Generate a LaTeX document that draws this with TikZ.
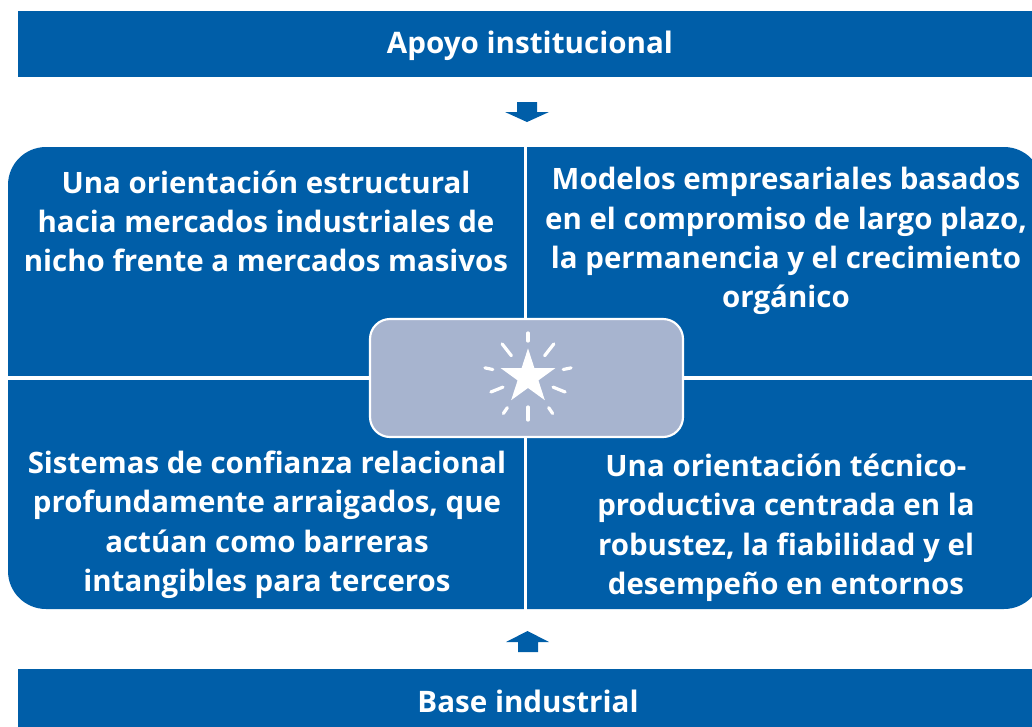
\documentclass[tikz,border=0pt]{standalone}
\usepackage{fontspec}
\setmainfont{Open Sans}
\usetikzlibrary{shapes.geometric,calc}

\definecolor{bandblue}{RGB}{0,94,168}
\definecolor{hubgrey}{RGB}{167,180,207}

\tikzset{every picture/.style={line width=0.75pt}}
\tikzset{
  bandtext/.style={inner sep=0.75pt, text=white, font=\bfseries\fontsize{22.2}{29}\selectfont},
  quadtext/.style={inner sep=0.75pt, text=white, align=center, font=\bfseries\fontsize{22.1}{29.5}\selectfont},
  sparkray/.style={white, line width=2.4pt, line cap=round},
}

\begin{document}
\begin{tikzpicture}[x=0.75pt,y=0.75pt,yscale=-1,xscale=1]
\useasboundingbox (0,0) rectangle (1032,726);
\clip (0,0) rectangle (1032,726);

%Shape: Rectangle [top band]
\fill [bandblue] (18,11) rectangle (1042,77);
%Shape: Rectangle [bottom band]
\fill [bandblue] (18,669) rectangle (1042,740);

%Shape: Block arrow down
\fill [bandblue] (517,102) -- (537,102) -- (537,112) -- (549,112) -- (527,122) -- (505,112) -- (517,112) -- cycle;
%Shape: Block arrow up
\fill [bandblue] (518,652) -- (538,652) -- (538,642) -- (549,642) -- (527.5,631) -- (506,642) -- (518,642) -- cycle;

%Shape: Quadrants
\fill [bandblue] (8,378) [rounded corners=28.5pt] -- (8,147) -- (1042,147) -- (1042,609) -- (8,609) [sharp corners] -- cycle;
%Straight Lines [dividers]
\draw [white, line width=2.4pt] (525.3,140) -- (525.3,615);
\draw [white, line width=2.4pt] (0,378) -- (1040,378);

%Shape: Rounded Rect [hub]
\node (hub) at (526.5,378) [draw=white, line width=1.6pt, fill=hubgrey, rounded corners=15pt, minimum width=234.75pt, minimum height=88.5pt] {};
%Shape: Star
\node (star) at (528,377) [star, star points=5, star point ratio=2.618, fill=white, inner sep=0pt, minimum size=43pt] {};
\foreach \ang/\rin/\rout in {90/36/44, 128/27/42, 52/27/42, 168/36/44, 12/36/44, 202/27/40, 338/27/40, 236/37/44, 304/37/44, 270/30/43}
  \draw [sparkray] ($(star.center)+(-\ang:\rin)$) -- ($(star.center)+(-\ang:\rout)$);

% Text Node
\node (top) at (530,46) [bandtext] {Apoyo institucional};
% Text Node
\node (base) at (528,701) [bandtext] {Base industrial};
% Text Node
\node (nicho) at (266,169) [quadtext, anchor=north] {Una orientación estructural\\hacia mercados industriales de\\nicho frente a mercados masivos};
% Text Node
\node (modelos) at (786,166) [quadtext, anchor=north] {Modelos empresariales basados\\en el compromiso de largo plazo,\\la permanencia y el crecimiento\\orgánico};
% Text Node
\node (confianza) at (267,600) [quadtext, anchor=south] {Sistemas de confianza relacional\\profundamente arraigados, que\\actúan como barreras\\intangibles para terceros};
% Text Node
\node (tecnico) at (786,603) [quadtext, anchor=south] {Una orientación técnico-\\productiva centrada en la\\robustez, la fiabilidad y el\\desempeño en entornos};

\end{tikzpicture}
\end{document}
